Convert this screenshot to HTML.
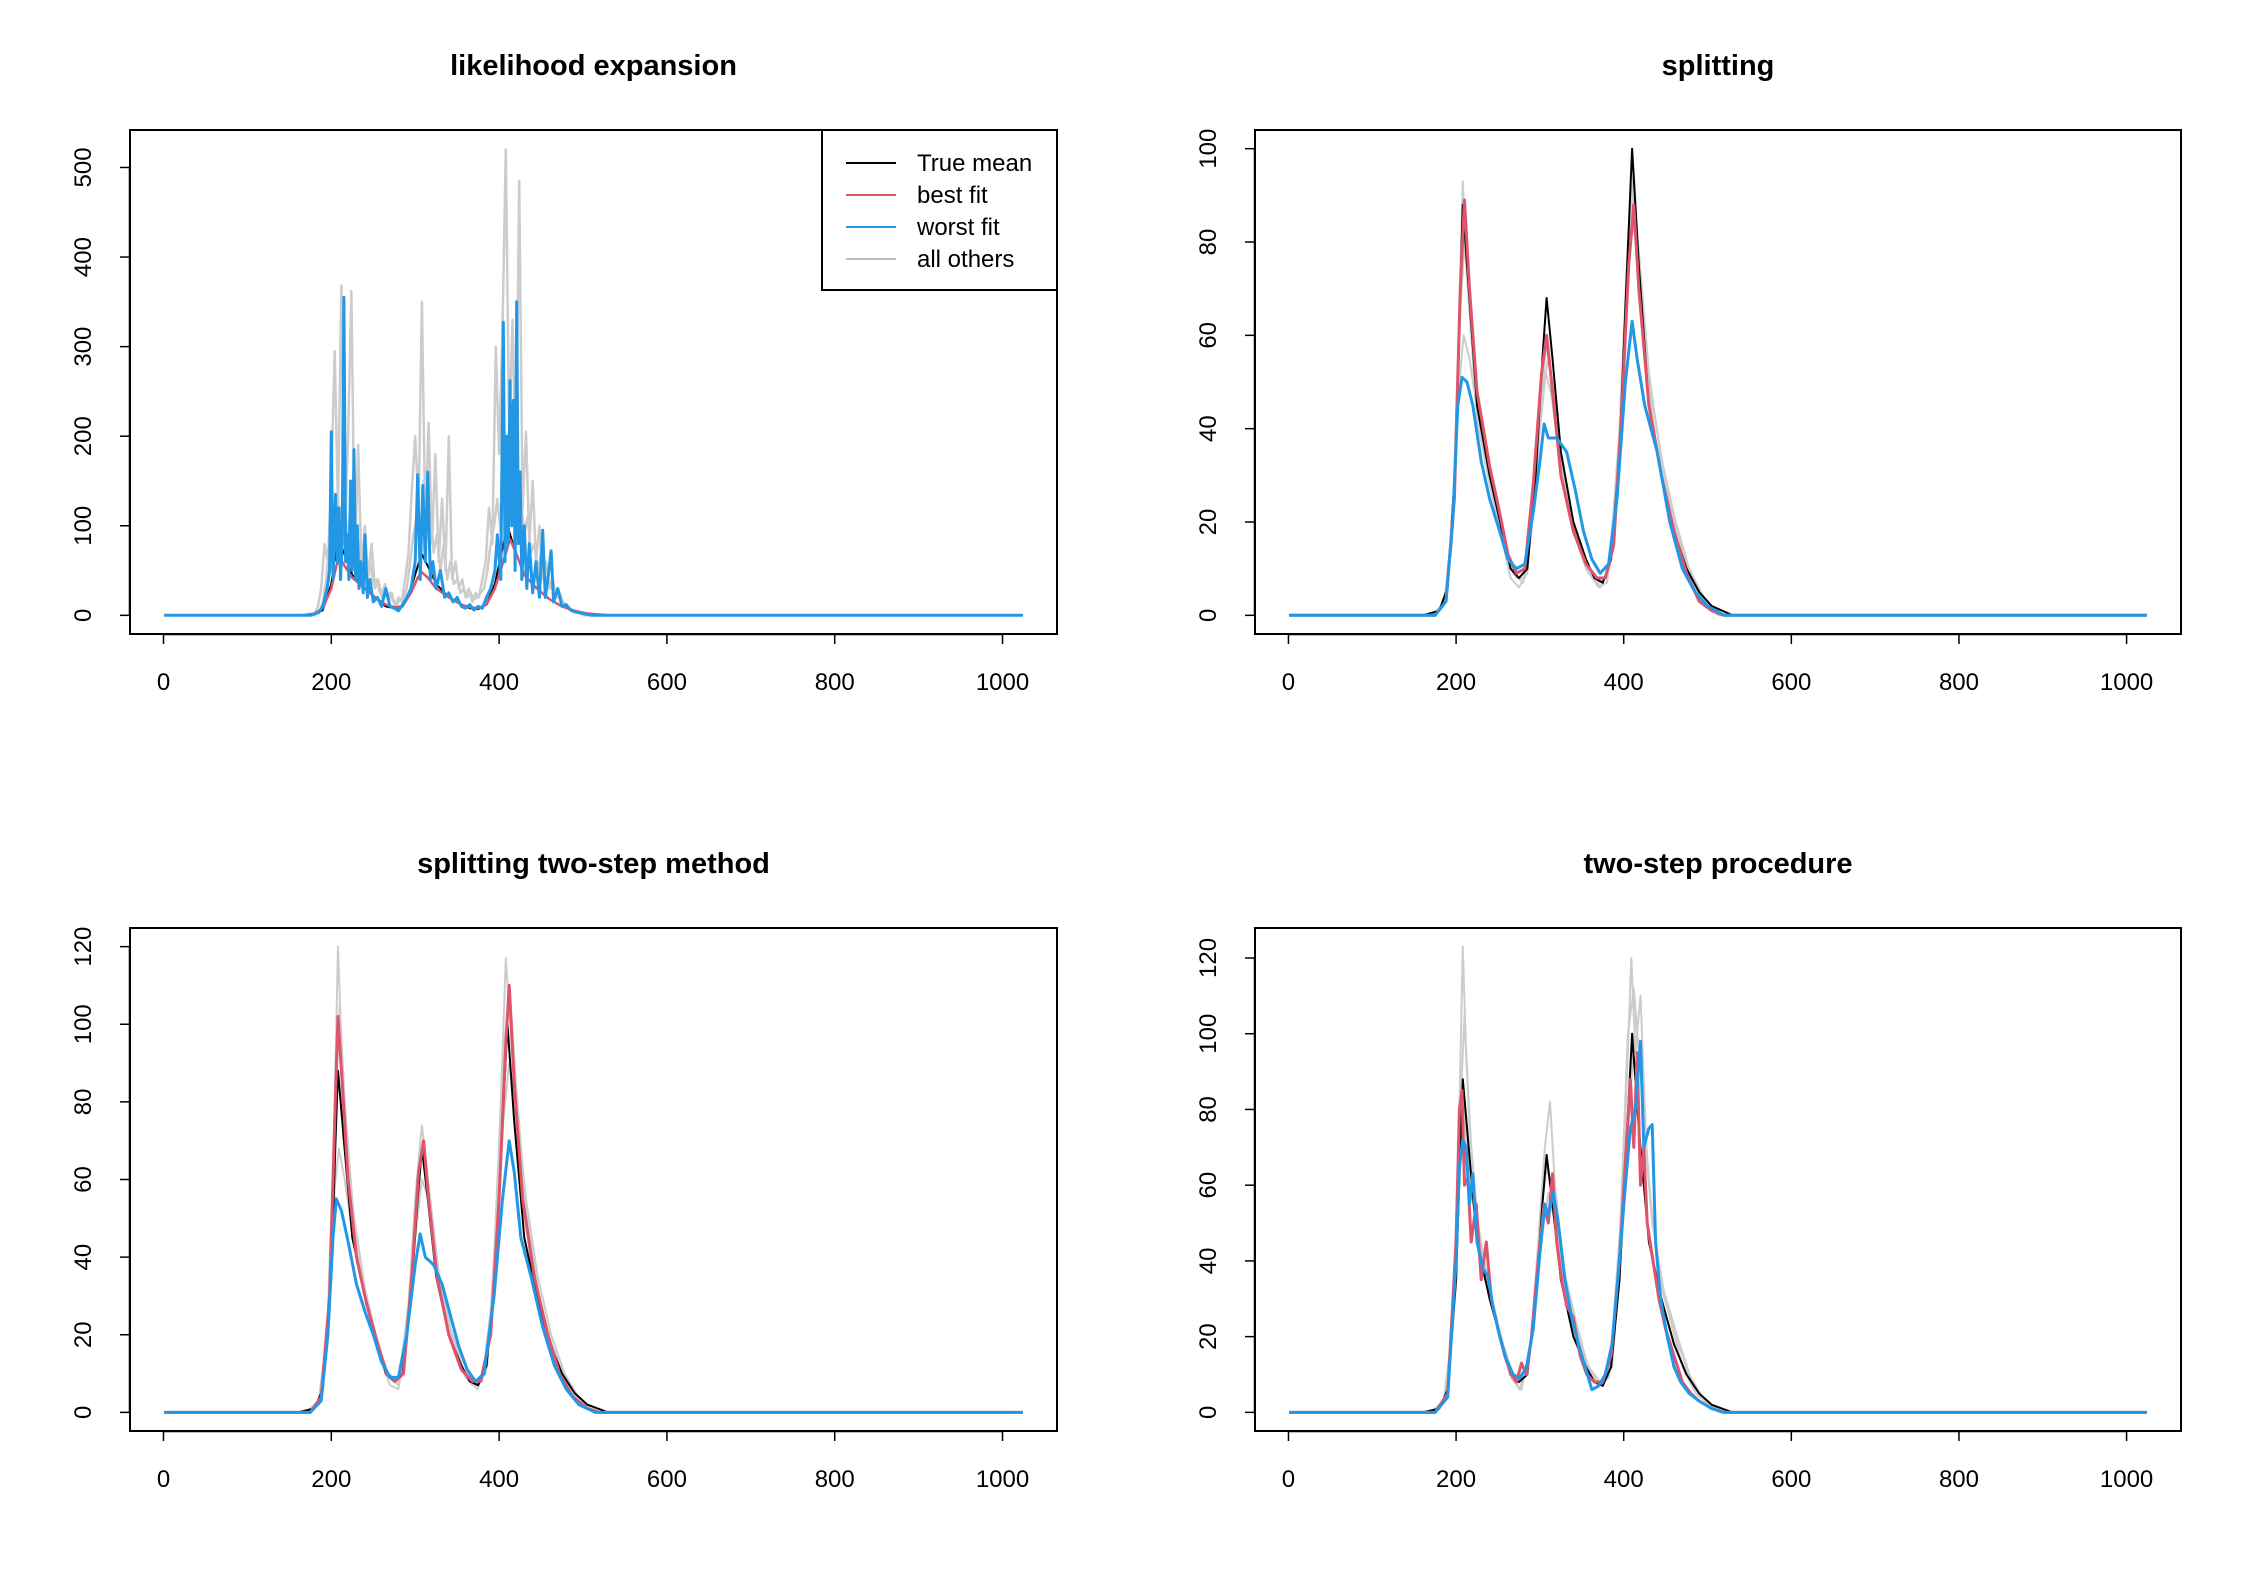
<!DOCTYPE html>
<html><head><meta charset="utf-8"><style>
html,body{margin:0;padding:0;background:#fff;}
svg{display:block;font-family:"Liberation Sans",sans-serif;}
</style></head><body>
<svg id="fig" width="2246" height="1593" viewBox="0 0 2246 1593" xmlns="http://www.w3.org/2000/svg"></svg>
<script>
// ---------- data ----------
const xTicks = [0,200,400,600,800,1000];
const yTicks1 = [0,100,200,300,400,500];
const yTicks2 = [0,20,40,60,80,100];
const yTicks3 = [0,20,40,60,80,100,120];
const yTicks4 = [0,20,40,60,80,100,120];
const titles = ["likelihood expansion","splitting","splitting two-step method","two-step procedure"];
const legendLabels = ["True mean","best fit","worst fit","all others"];

const trueMean = [[1,0],[160,0],[180,1],[190,6],[200,35],[205,70],[208,88],[215,70],[225,45],[240,30],[255,18],[265,10],[275,8],[285,10],[295,30],[303,55],[308,68],[315,55],[325,35],[340,20],[355,12],[365,8],[375,7],[385,12],[395,35],[403,70],[410,100],[418,75],[430,45],[445,30],[460,18],[475,10],[490,5],[505,2],[530,0],[1024,0]];

// panel 1
const p1GrayX = [];
for (let v = 180; v <= 500; v += 4) p1GrayX.push(v);
const p1GrayA = [2,10,30,80,60,150,295,120,368,80,200,362,60,190,50,100,40,80,30,40,20,35,15,25,10,20,15,40,70,140,200,120,350,100,215,80,180,60,130,50,200,40,60,30,40,20,30,15,25,20,40,60,120,80,300,180,320,520,200,330,150,485,120,205,80,150,60,100,40,60,30,40,20,25,15,12,8,6,4,3,1];
const p1GrayB = [2,5,15,40,90,70,130,60,160,90,110,70,100,60,80,45,60,35,40,25,30,20,25,15,12,18,20,30,60,90,110,80,150,100,120,70,90,50,80,40,60,35,40,25,30,20,25,18,20,25,30,50,80,100,130,90,160,200,140,170,100,130,90,110,70,80,50,70,40,45,30,30,20,18,12,10,6,4,3,2,1];
const p1Red = [[1,0],[165,0],[180,2],[190,8],[200,30],[206,55],[210,65],[216,55],[225,42],[240,30],[255,18],[265,12],[275,9],[285,10],[295,25],[303,42],[308,48],[315,42],[325,30],[340,20],[355,12],[365,9],[375,8],[385,12],[395,30],[405,60],[413,85],[420,70],[430,45],[445,30],[460,18],[475,10],[490,5],[505,2],[530,0],[1024,0]];
const p1Blue = [[1,0],[175,0],[185,3],[190,10],[195,30],[198,50],[200,205],[202,40],[205,135],[207,60],[209,120],[211,40],[213,80],[215,355],[217,60],[219,90],[221,40],[223,150],[225,50],[227,185],[229,40],[231,100],[233,30],[235,60],[238,25],[240,90],[243,20],[246,40],[250,15],[255,20],[260,10],[265,30],[270,10],[275,8],[280,5],[285,12],[290,20],[295,30],[300,60],[303,157],[306,40],[309,145],[312,60],[315,160],[318,40],[321,60],[325,30],[330,50],[335,20],[340,25],[345,15],[350,20],[355,10],[360,8],[365,12],[370,6],[375,10],[380,8],[385,20],[390,30],[395,50],[398,90],[402,40],[405,327],[407,60],[409,200],[411,80],[413,262],[415,100],[417,240],[419,50],[421,350],[423,80],[425,160],[427,40],[430,100],[433,30],[436,80],[440,25],[444,60],[448,20],[452,95],[455,20],[458,40],[462,72],[465,15],[470,30],[475,10],[480,12],[485,6],[490,4],[500,2],[510,0],[1024,0]];

// panel 2
const p2GrayA = [[1,0],[170,0],[185,2],[195,15],[203,60],[208,93],[214,70],[225,42],[240,28],[255,16],[265,8],[275,6],[285,9],[295,30],[303,50],[308,58],[315,50],[325,32],[340,18],[355,10],[370,6],[380,7],[390,20],[400,55],[408,85],[415,80],[425,55],[440,35],[455,22],[470,12],[485,6],[500,2],[520,0],[1024,0]];
const p2GrayB = [[1,0],[175,0],[188,4],[198,25],[205,65],[210,80],[218,60],[230,40],[245,25],[260,14],[272,8],[282,8],[292,25],[302,48],[310,55],[318,45],[330,28],[345,16],[360,9],[372,6],[383,10],[395,40],[405,80],[412,95],[420,70],[432,48],[447,32],[462,20],[478,10],[495,4],[515,0],[1024,0]];
const p2GrayC = [[1,0],[172,0],[186,3],[196,20],[204,50],[209,60],[216,55],[228,40],[242,27],[256,16],[268,9],[280,7],[290,18],[300,40],[307,52],[314,47],[326,30],[342,17],[358,9],[370,7],[381,9],[393,32],[403,70],[411,90],[418,78],[430,52],[444,34],[460,20],[475,11],[492,4],[512,0],[1024,0]];
const p2Red = [[1,0],[175,0],[188,3],[198,25],[205,70],[210,89],[216,70],[225,48],[240,32],[252,22],[262,13],[272,9],[282,10],[292,28],[302,52],[308,60],[315,48],[325,30],[340,18],[355,11],[368,8],[378,8],[388,15],[398,45],[406,75],[412,88],[418,70],[430,45],[445,30],[460,18],[475,9],[490,3],[505,1],[520,0],[1024,0]];
const p2Blue = [[1,0],[175,0],[188,3],[196,20],[202,45],[207,51],[213,50],[220,45],[230,33],[240,25],[252,18],[262,12],[272,10],[282,11],[292,22],[300,33],[305,41],[310,38],[320,38],[332,35],[342,27],[352,18],[362,12],[372,9],[382,11],[392,25],[402,50],[410,63],[416,55],[425,45],[440,35],[455,20],[470,10],[485,5],[500,2],[520,0],[1024,0]];

// panel 3
const p3GrayA = [[1,0],[170,0],[185,3],[195,20],[203,70],[208,120],[212,95],[220,65],[232,40],[245,25],[258,14],[270,7],[280,6],[290,20],[300,55],[308,74],[315,60],[326,35],[340,20],[355,11],[368,7],[380,8],[392,30],[402,80],[408,117],[415,95],[425,60],[440,35],[455,22],[470,12],[485,5],[500,2],[520,0],[1024,0]];
const p3GrayB = [[1,0],[175,0],[188,4],[198,30],[205,80],[210,105],[216,80],[226,52],[240,32],[255,18],[268,9],[280,7],[292,28],[302,60],[310,70],[318,55],[330,32],[345,18],[360,9],[374,6],[386,12],[398,55],[406,95],[413,108],[420,85],[432,52],[447,30],[462,18],[478,9],[495,3],[515,0],[1024,0]];
const p3GrayC = [[1,0],[172,0],[186,3],[196,22],[204,58],[209,68],[216,60],[228,42],[242,28],[256,17],[268,10],[280,8],[290,18],[300,45],[308,60],[316,55],[328,36],[342,22],[358,11],[372,7],[384,10],[396,42],[405,75],[412,90],[420,80],[432,55],[446,35],[462,20],[478,10],[494,4],[514,0],[1024,0]];
const p3Red = [[1,0],[175,0],[188,4],[198,30],[204,75],[208,102],[213,85],[220,60],[230,40],[242,28],[255,18],[266,10],[276,8],[286,10],[296,35],[304,62],[310,70],[316,55],[326,35],[340,20],[355,11],[368,8],[378,8],[390,20],[400,55],[408,95],[412,110],[418,85],[428,55],[442,35],[458,20],[472,10],[488,4],[505,1],[520,0],[1024,0]];
const p3Blue = [[1,0],[175,0],[188,3],[196,20],[202,45],[206,55],[212,52],[220,44],[230,33],[240,26],[250,20],[260,13],[270,9],[280,9],[290,20],[300,38],[306,46],[312,40],[322,38],[332,33],[342,25],[352,17],[362,11],[372,8],[382,10],[394,30],[404,55],[412,70],[418,62],[426,45],[438,35],[452,22],[466,12],[480,6],[495,2],[515,0],[1024,0]];

// panel 4
const p4GrayA = [[1,0],[170,0],[185,3],[195,20],[203,70],[208,123],[212,95],[218,70],[228,45],[240,30],[252,20],[264,10],[276,6],[288,15],[298,45],[306,70],[312,82],[318,60],[328,38],[342,25],[356,13],[370,8],[382,9],[394,35],[404,90],[409,120],[414,95],[420,110],[428,65],[440,40],[455,25],[470,12],[486,5],[502,2],[520,0],[1024,0]];
const p4GrayB = [[1,0],[175,0],[188,4],[198,30],[205,80],[210,105],[216,75],[226,50],[240,32],[254,20],[266,9],[278,6],[290,20],[300,50],[308,65],[316,58],[328,36],[342,24],[356,12],[370,7],[384,12],[396,50],[405,100],[412,112],[420,90],[432,55],[446,32],[462,20],[478,10],[494,4],[514,0],[1024,0]];
const p4GrayC = [[1,0],[172,0],[186,3],[196,22],[204,60],[209,80],[216,62],[228,44],[242,30],[256,18],[268,10],[280,8],[292,22],[302,46],[310,58],[318,50],[330,34],[344,22],[358,12],[372,8],[386,12],[398,45],[407,80],[414,105],[422,85],[434,50],[448,32],[464,20],[480,9],[496,3],[516,0],[1024,0]];
const p4Red = [[1,0],[175,0],[190,5],[200,45],[204,80],[207,85],[210,60],[214,62],[218,45],[224,55],[230,35],[236,45],[242,30],[250,22],[258,15],[266,10],[272,8],[278,13],[284,10],[290,20],[298,40],[305,55],[310,50],[315,63],[320,45],[326,35],[332,28],[340,25],[348,15],[356,10],[365,8],[375,8],[385,15],[395,40],[403,70],[408,88],[412,70],[416,95],[420,60],[424,70],[428,50],[435,40],[442,30],[450,22],[460,15],[470,8],[480,5],[490,3],[505,1],[520,0],[1024,0]];
const p4Blue = [[1,0],[175,0],[190,4],[200,40],[204,65],[208,72],[212,70],[216,55],[220,63],[225,45],[232,38],[238,36],[244,28],[252,20],[260,14],[268,10],[276,9],[284,12],[292,22],[300,42],[306,55],[310,52],[316,58],[322,50],[330,35],[338,25],[346,18],[354,12],[362,6],[370,7],[378,10],[386,18],[394,38],[402,60],[408,75],[414,80],[420,98],[424,70],[430,75],[434,76],[438,45],[444,30],[452,20],[460,12],[468,8],[478,5],[490,3],[505,1],[520,0],[1024,0]];

// ---------- drawing ----------
const NS = "http://www.w3.org/2000/svg";
const svg = document.getElementById("fig");
function mk(tag, attrs, parent){ const e=document.createElementNS(NS,tag); for(const k in attrs) e.setAttribute(k,attrs[k]); (parent||svg).appendChild(e); return e; }

function panel(idx, box, ymaxLim, yTicks, series, legend){
  const g = mk("g",{});
  
  
  const xmin = 1-0.04*1023, xmax = 1024+0.04*1023;
  const ymin = -0.04*ymaxLim, ymax = ymaxLim*1.04;
  const sx = v => box.l + (v-xmin)/(xmax-xmin)*(box.r-box.l);
  const sy = v => box.b - (v-ymin)/(ymax-ymin)*(box.b-box.t);
  const clip = "clip"+idx;
  const cp = mk("clipPath",{id:clip},g); mk("rect",{x:box.l,y:box.t,width:box.r-box.l,height:box.b-box.t},cp);
  const sg = mk("g",{"clip-path":"url(#"+clip+")"},g);
  for (const s of series){
    const d = s.pts.map((p,i)=>(i?"L":"M")+sx(p[0]).toFixed(1)+","+sy(p[1]).toFixed(1)).join("");
    const path = mk("path",{d:d,fill:"none",stroke:s.color,"stroke-width":s.w,"stroke-linejoin":"round"},sg);
    
    
  }
  const frame = mk("rect",{x:box.l,y:box.t,width:box.r-box.l,height:box.b-box.t,fill:"none",stroke:"#000","stroke-width":2},g);
  
  
  const xa = mk("g",{},g);
  
  
  mk("line",{x1:sx(xTicks[0]),x2:sx(xTicks[xTicks.length-1]),y1:box.b+0.5,y2:box.b+0.5,stroke:"#000","stroke-width":1.5},xa);
  for (const t of xTicks){
    mk("line",{x1:sx(t),x2:sx(t),y1:box.b,y2:box.b+10,stroke:"#000","stroke-width":1.5},xa);
    const tx = mk("text",{x:sx(t),y:box.b+56,"text-anchor":"middle","font-size":24},xa);
    tx.textContent = t;
    
    
  }
  const ya = mk("g",{},g);
  
  
  mk("line",{x1:box.l-0.5,x2:box.l-0.5,y1:sy(yTicks[0]),y2:sy(yTicks[yTicks.length-1]),stroke:"#000","stroke-width":1.5},ya);
  for (const t of yTicks){
    mk("line",{x1:box.l-10,x2:box.l,y1:sy(t),y2:sy(t),stroke:"#000","stroke-width":1.5},ya);
    const tx = mk("text",{x:0,y:0,"text-anchor":"middle","font-size":24,transform:"translate("+(box.l-39)+","+sy(t)+") rotate(-90)"},ya);
    tx.textContent = t;
    
    
  }
  const title = mk("text",{x:(box.l+box.r)/2,y:box.t-55,"text-anchor":"middle","font-size":29,"font-weight":"bold"},g);
  title.textContent = titles[idx];
  
  
  if (legend){
    const lg = mk("g",{},g);
    
    
    mk("rect",{x:822,y:box.t,width:box.r-822,height:160,fill:"#fff",stroke:"#000","stroke-width":2},lg);
    const cols = ["#000","#DF536B","#2297E6","#BEBEBE"];
    for (let i=0;i<legendLabels.length;i++){
      const y = box.t+33+i*32;
      const ln = mk("line",{x1:846,x2:896,y1:y,y2:y,stroke:cols[i],"stroke-width":2},lg);
      
      
      const tx = mk("text",{x:917,y:y+8,"font-size":24},lg);
      tx.textContent = legendLabels[i];
      
      
    }
  }
}
const GRAY="#CCCCCC", RED="#DF536B", BLUE="#2297E6";
const p1GA = p1GrayX.map((x,i)=>[x,p1GrayA[i]]).filter(p=>p[1]!==undefined);
const p1GB = p1GrayX.map((x,i)=>[x+2,p1GrayB[i]]).filter(p=>p[1]!==undefined);
const zeroL=[[1,0],[180,0]], zeroR=[[500,0],[1024,0]];
panel(0,{l:130,r:1057,t:130,b:634},521,yTicks1,[
  {pts:zeroL.concat(p1GA).concat(zeroR),color:GRAY,w:2.5,name:"series-all-others"},
  {pts:zeroL.concat(p1GB).concat(zeroR),color:GRAY,w:2.5,name:"series-all-others"},
  {pts:trueMean,color:"#000",w:2,name:"series-true-mean"},
  {pts:p1Red,color:RED,w:2.5,name:"series-best-fit"},
  {pts:p1Blue,color:BLUE,w:3,name:"series-worst-fit"}],true);
panel(1,{l:1255,r:2181,t:130,b:634},100,yTicks2,[
  {pts:p2GrayA,color:GRAY,w:2,name:"series-all-others"},
  {pts:p2GrayB,color:GRAY,w:2,name:"series-all-others"},
  {pts:p2GrayC,color:GRAY,w:2,name:"series-all-others"},
  {pts:trueMean,color:"#000",w:2,name:"series-true-mean"},
  {pts:p2Red,color:RED,w:3,name:"series-best-fit"},
  {pts:p2Blue,color:BLUE,w:3,name:"series-worst-fit"}],false);
panel(2,{l:130,r:1057,t:928,b:1431},120,yTicks3,[
  {pts:p3GrayA,color:GRAY,w:2,name:"series-all-others"},
  {pts:p3GrayB,color:GRAY,w:2,name:"series-all-others"},
  {pts:p3GrayC,color:GRAY,w:2,name:"series-all-others"},
  {pts:trueMean,color:"#000",w:2,name:"series-true-mean"},
  {pts:p3Red,color:RED,w:3,name:"series-best-fit"},
  {pts:p3Blue,color:BLUE,w:3,name:"series-worst-fit"}],false);
panel(3,{l:1255,r:2181,t:928,b:1431},123,yTicks4,[
  {pts:p4GrayA,color:GRAY,w:2,name:"series-all-others"},
  {pts:p4GrayB,color:GRAY,w:2,name:"series-all-others"},
  {pts:p4GrayC,color:GRAY,w:2,name:"series-all-others"},
  {pts:trueMean,color:"#000",w:2,name:"series-true-mean"},
  {pts:p4Red,color:RED,w:3,name:"series-best-fit"},
  {pts:p4Blue,color:BLUE,w:3,name:"series-worst-fit"}],false);
</script>
</body></html>
